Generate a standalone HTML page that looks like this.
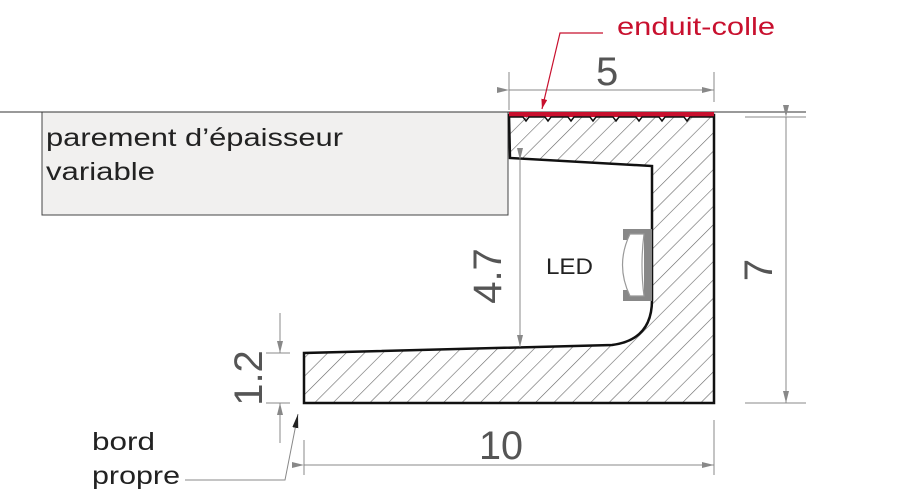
<!DOCTYPE html>
<html><head><meta charset="utf-8"><style>
html,body{margin:0;padding:0;background:#fff;}
svg{display:block;}
text{font-family:"Liberation Sans",sans-serif;}
</style></head><body>
<svg width="920" height="495" viewBox="0 0 920 495" xmlns="http://www.w3.org/2000/svg">
<defs>
<pattern id="h" patternUnits="userSpaceOnUse" width="13" height="13" patternTransform="rotate(45)">
<line x1="0" y1="0" x2="0" y2="13" stroke="#666" stroke-width="1.2"/>
</pattern>
<marker id="a" viewBox="0 0 12 6" refX="12" refY="3" markerWidth="12" markerHeight="6" orient="auto" markerUnits="userSpaceOnUse">
<path d="M0,0 L12,3 L0,6 z" fill="#888"/></marker>
<marker id="r" viewBox="0 0 10 6" refX="10" refY="3" markerWidth="10" markerHeight="6" orient="auto" markerUnits="userSpaceOnUse">
<path d="M0,0 L10,3 L0,6 z" fill="#c8102e"/></marker>
<marker id="k" viewBox="0 0 14 6" refX="14" refY="3" markerWidth="14" markerHeight="7" orient="auto" markerUnits="userSpaceOnUse">
<path d="M0,0 L14,3 L0,6 z" fill="#222"/></marker>
</defs>
<rect x="42" y="112" width="466" height="103" fill="#f1f0ef" stroke="#444" stroke-width="1"/>
<line x1="0" y1="112" x2="806" y2="112" stroke="#333" stroke-width="1"/>
<text x="46" y="146" font-size="25" fill="#222" textLength="297" lengthAdjust="spacingAndGlyphs">parement d’épaisseur</text>
<text x="46" y="180" font-size="25" fill="#222" textLength="109" lengthAdjust="spacingAndGlyphs">variable</text>
<path d="M509,115 L714,115 L714,403 L304,403 L304,353 L612,345 Q652,340 652,300 L652,166 L510,158 Z" fill="url(#h)" stroke="#111" stroke-width="2.5"/>
<rect x="509" y="112" width="205" height="5" fill="#c8102e"/>
<path d="M509,117 L523,117 l3,4 l3,-4 L545,117 l3,4 l3,-4 L568,117 l3,4 l3,-4 L590,117 l3,4 l3,-4 L613,117 l3,4 l3,-4 L636,117 l3,4 l3,-4 L659,117 l3,4 l3,-4 L684,117 l3,4 l3,-4 L714,117" fill="none" stroke="#111" stroke-width="1.5"/>
<!-- LED -->
<path d="M623,229 L652,229 L652,301 L623,301 L623,290 L644,290 L644,240 L623,240 Z" fill="#888"/>
<path d="M644,234 L630,234 Q615,265 630,296 L644,296 Q640,265 644,234 Z" fill="#fff" stroke="#999" stroke-width="1.2"/>
<text x="546" y="274" font-size="22" fill="#222" textLength="47" lengthAdjust="spacingAndGlyphs">LED</text>
<g stroke="#888" stroke-width="1" fill="none">
<line x1="509" y1="72" x2="509" y2="110"/><line x1="714" y1="72" x2="714" y2="102"/>
<line x1="509" y1="90" x2="714" y2="90" marker-start="url(#a)" marker-end="url(#a)"/>
<line x1="745" y1="117" x2="806" y2="117"/><line x1="745" y1="403" x2="806" y2="403"/>
<line x1="786" y1="117" x2="786" y2="403" marker-start="url(#a)" marker-end="url(#a)"/>
<line x1="520" y1="160" x2="520" y2="347" marker-start="url(#a)" marker-end="url(#a)"/>
<line x1="304" y1="440" x2="304" y2="475"/><line x1="714" y1="420" x2="714" y2="475"/>
<line x1="304" y1="465" x2="714" y2="465" marker-start="url(#a)" marker-end="url(#a)"/>
<line x1="266" y1="353" x2="290" y2="353"/><line x1="266" y1="403" x2="290" y2="403"/>
<line x1="280" y1="313" x2="280" y2="353" marker-end="url(#a)"/>
<line x1="280" y1="443" x2="280" y2="403" marker-end="url(#a)"/>
<polyline points="185,480 285,480 298,414" marker-end="url(#k)"/>
</g>
<polyline points="603,33 560,33 542,109" fill="none" stroke="#c8102e" stroke-width="1.2" marker-end="url(#r)"/>
<text x="617" y="35" font-size="25" fill="#c8102e" textLength="158" lengthAdjust="spacingAndGlyphs">enduit-colle</text>
<g fill="#555" font-size="40">
<text x="596" y="85">5</text>
<text x="479" y="459" textLength="44" lengthAdjust="spacingAndGlyphs">10</text>
<text transform="translate(772,270) rotate(-90)" text-anchor="middle">7</text>
<text transform="translate(501,276) rotate(-90)" text-anchor="middle">4.7</text>
<text transform="translate(262,378) rotate(-90)" text-anchor="middle">1.2</text>
</g>
<text x="92" y="450" font-size="25" fill="#222" textLength="63" lengthAdjust="spacingAndGlyphs">bord</text>
<text x="92" y="484" font-size="25" fill="#222" textLength="88" lengthAdjust="spacingAndGlyphs">propre</text>
</svg>
</body></html>
